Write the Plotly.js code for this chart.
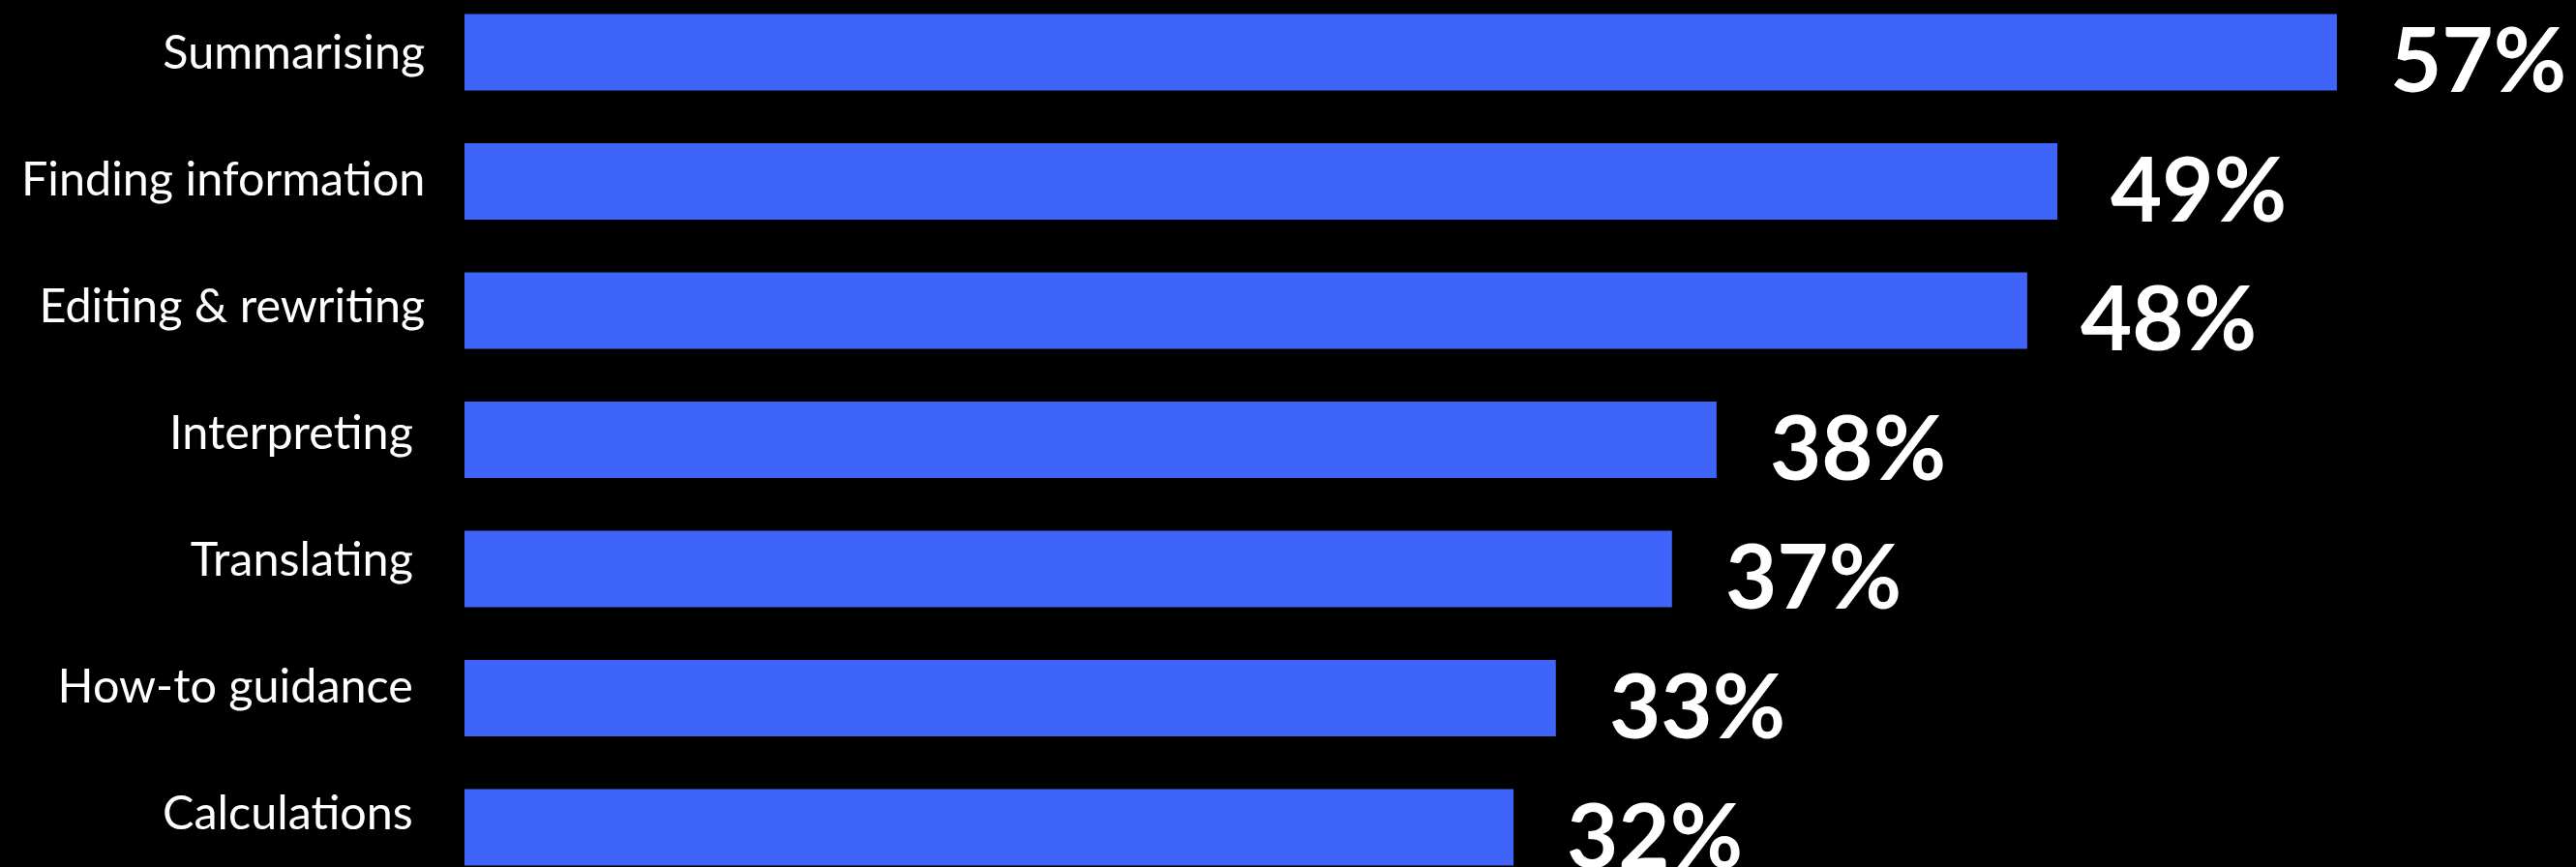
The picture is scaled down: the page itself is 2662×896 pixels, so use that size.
<!DOCTYPE html>
<html>
<head>
<meta charset="utf-8">
<script src="https://cdn.plot.ly/plotly-3.0.1.min.js"></script>
<style>html,body{margin:0;padding:0;background:#000;}#chart{width:2662px;height:896px;}</style>
</head>
<body>
<div id="chart"></div>
<script>
const categories = ["Summarising", "Finding information", "Editing & rewriting", "Interpreting\u00a0", "Translating\u00a0", "How-to guidance\u00a0", "Calculations\u00a0"];
const values = [57.08, 48.56, 47.64, 38.17, 36.81, 33.27, 31.98];
const valueLabels = ["57%", "49%", "48%", "38%", "37%", "33%", "32%"];

const trace = {
  type: 'bar',
  orientation: 'h',
  x: values,
  y: categories,
  marker: {color: '#3E64F9'},
  hoverinfo: 'none'
};

// invisible companion trace carrying the category tick labels on an overlaid axis
const labelTrace = {
  type: 'bar',
  orientation: 'h',
  x: categories.map(() => 0),
  y: categories,
  yaxis: 'y2',
  marker: {color: 'rgba(0,0,0,0)'},
  hoverinfo: 'none'
};

const annotations = values.map((v, i) => ({
  x: v, y: categories[i], xref: 'x', yref: 'y',
  text: valueLabels[i], showarrow: false,
  xanchor: 'left', yanchor: 'middle', xshift: 53, yshift: -6,
  font: {family: 'Lato', size: 92, color: '#ffffff', weight: 'bold'}
}));

const layout = {
  width: 2662, height: 896,
  margin: {l: 480, r: 0, t: 0, b: 0, pad: 0},
  paper_bgcolor: '#000000', plot_bgcolor: '#000000',
  bargap: 0.408,
  barmode: 'overlay',
  showlegend: false,
  xaxis: {visible: false, range: [0, 64.37], fixedrange: true},
  yaxis: {
    type: 'category', categoryorder: 'array', categoryarray: categories,
    range: [6.307, -0.404],
    showgrid: false, zeroline: false, showline: false,
    showticklabels: false, ticks: ''
  },
  yaxis2: {
    type: 'category', categoryorder: 'array', categoryarray: categories,
    overlaying: 'y', side: 'left',
    range: [6.427, -0.412],
    showgrid: false, zeroline: false, showline: false,
    ticks: 'outside', ticklen: 30, tickcolor: 'rgba(0,0,0,0)',
    tickfont: {family: 'Lato', size: 48.5, color: '#ffffff'}
  },
  annotations: annotations
};

Plotly.newPlot('chart', [trace, labelTrace], layout, {displayModeBar: false, staticPlot: true});
</script>
</body>
</html>
